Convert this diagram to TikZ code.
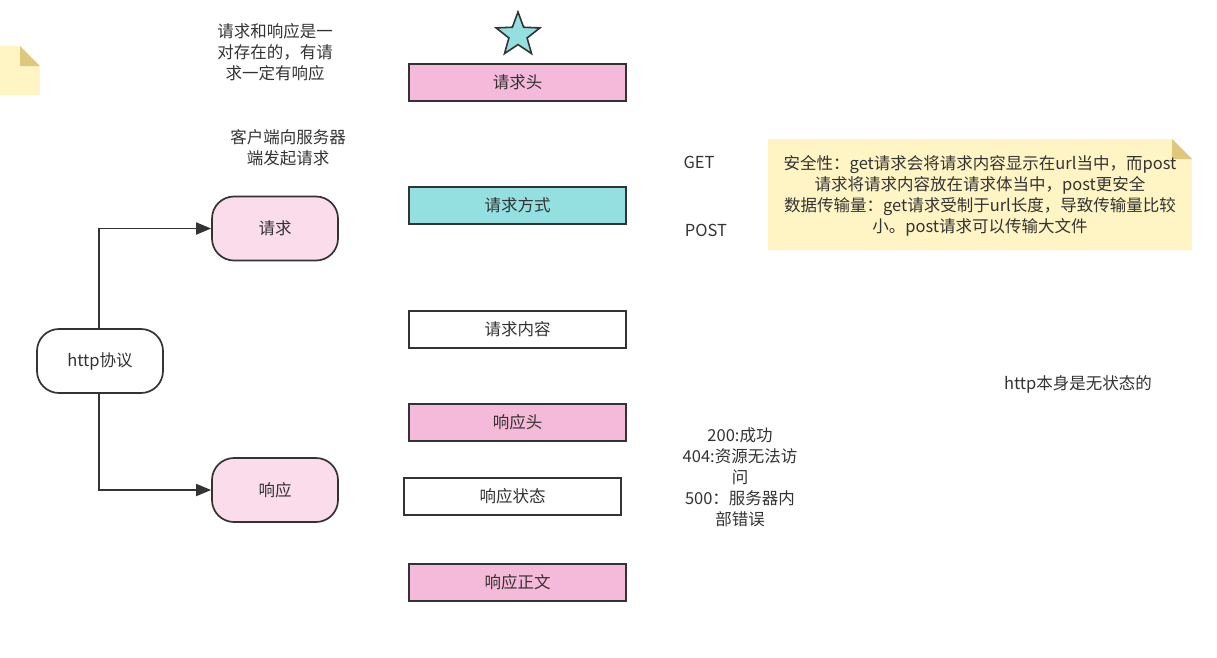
\documentclass[tikz,border=0pt]{standalone}
\usepackage{fontspec}
\setmainfont{Noto Sans CJK SC}
\usetikzlibrary{shapes.geometric,arrows.meta}
\definecolor{ink}{HTML}{333333}
\definecolor{pinkbox}{HTML}{F5B9D9}
\definecolor{cyanbox}{HTML}{94DFE0}
\definecolor{pinkround}{HTML}{FADCEB}
\definecolor{notefill}{HTML}{FFF4C3}
\definecolor{notefold}{HTML}{DFC87E}
\tikzset{
  every node/.style={font=\fontsize{16.5}{21}\selectfont, text=ink},
  bar/.style={draw=ink, line width=1.7pt, minimum width=217pt, minimum height=37pt, inner sep=0pt},
  rbox/.style={draw=ink, line width=1.7pt, rounded corners=22pt, minimum width=126pt, minimum height=64pt, inner sep=0pt},
  label/.style={align=center, inner sep=0pt},
  conn/.style={draw=ink, line width=1.8pt, -{Triangle[length=15pt,width=12pt]}},
}
\begin{document}
\begin{tikzpicture}[x=1pt,y=-1pt]
\useasboundingbox (0,0) rectangle (1217,657);
% top-left note
\fill[notefill] (0,46) -- (20,46) -- (40,66) -- (40,95) -- (0,95) -- cycle;
\fill[notefold] (20,46) -- (40,66) -- (20,66) -- cycle;
% big note
\fill[notefill] (768,139) -- (1172,139) -- (1192,159) -- (1192,250) -- (768,250) -- cycle;
\fill[notefold] (1172,139) -- (1192,159) -- (1172,159) -- cycle;
\node[label] (note) at (980,196) {安全性：get请求会将请求内容显示在url当中，而post\\请求将请求内容放在请求体当中，post更安全\\数据传输量：get请求受制于url长度，导致传输量比较\\小。post请求可以传输大文件};
% star
\node[star, star points=5, star point ratio=2.4, draw=ink, line width=1.6pt, fill=cyanbox, minimum size=46pt, inner sep=0pt] (star) at (518,35) {};
% texts
\node[label] (t1) at (275,52) {请求和响应是一\\对存在的，有请\\求一定有响应};
\node[label] (t2) at (288,148) {客户端向服务器\\端发起请求};
\node[label] (get) at (699,162) {GET};
\node[label] (post) at (706,230) {POST};
\node[label] (stateless) at (1078,384) {http本身是无状态的};
\node[label] (codes) at (740,477) {200:成功\\404:资源无法访\\问\\500：服务器内\\部错误};
% bars
\node[bar, fill=pinkbox] (reqhead) at (517.5,82.5) {请求头};
\node[bar, fill=cyanbox] (reqmethod) at (517.5,205.5) {请求方式};
\node[bar, fill=white] (reqbody) at (517.5,329.5) {请求内容};
\node[bar, fill=pinkbox] (resphead) at (517.5,422.5) {响应头};
\node[bar, fill=white] (respstatus) at (512.5,496.5) {响应状态};
\node[bar, fill=pinkbox] (respbody) at (517.5,582.5) {响应正文};
% rounded
\node[rbox, fill=white] (http) at (100,361) {http协议};
\node[rbox, fill=pinkround] (req) at (275,228.5) {请求};
\node[rbox, fill=pinkround] (resp) at (275,490) {响应};
% connectors
\draw[conn] (http.north -| 99,0) |- (req.west);
\draw[conn] (http.south -| 99,0) |- (resp.west);
\end{tikzpicture}
\end{document}
